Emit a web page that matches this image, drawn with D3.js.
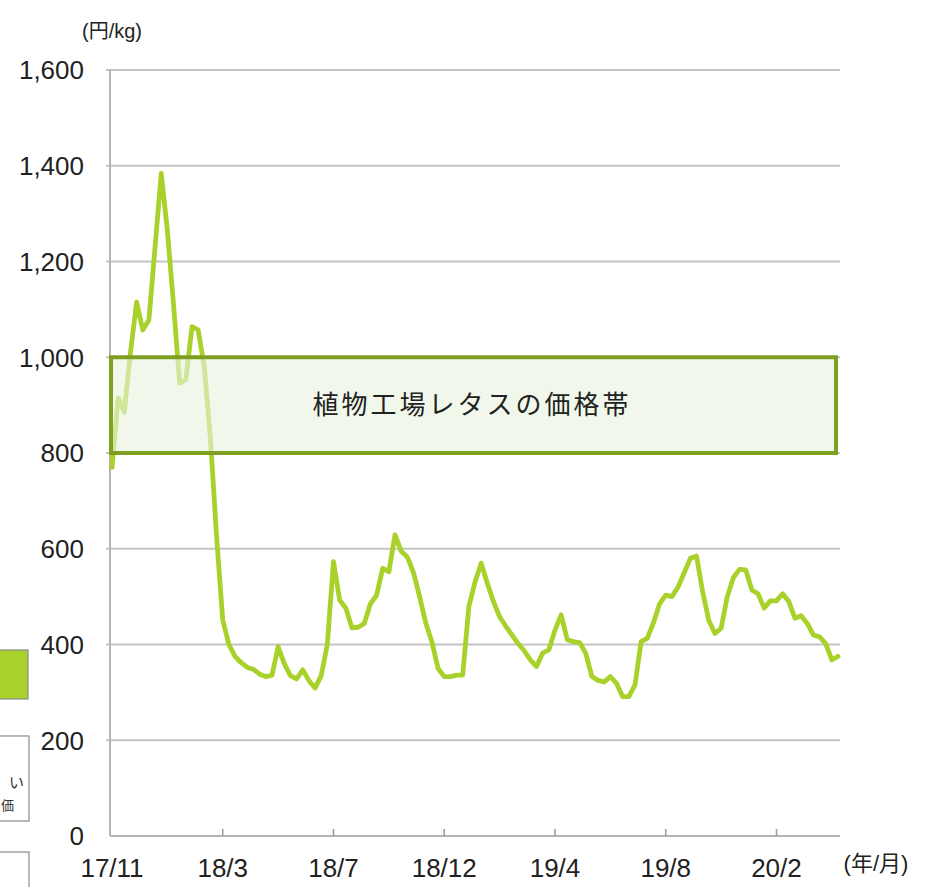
<!DOCTYPE html>
<html><head><meta charset="utf-8">
<script src="https://cdn.jsdelivr.net/npm/d3@7"></script>
<style>
html,body{margin:0;padding:0;background:#fff;}
svg{display:block;font-family:"Liberation Sans","Noto Sans CJK JP",Arial,sans-serif;}
</style></head><body>
<svg id="c" width="926" height="887"></svg>
<script>
// Weekly lettuce price (円/kg), week 0 = 2017/11
const weeks = d3.range(0, 119);
const prices = [
 770, 915, 885,1010,1115,1057,1078,1230,1384,1265,
1110, 946, 953,1064,1057, 980, 830, 625, 451, 400,
 375, 362, 352, 348, 338, 333, 336, 395, 360, 335,
 328, 347, 325, 309, 335, 400, 573, 493, 476, 435,
 436, 444, 485, 503, 559, 552, 629, 595, 583, 550,
 500, 445, 405, 350, 333, 333, 336, 336, 479, 530,
 570, 528, 490, 458, 438, 420, 402, 387, 368, 354,
 382, 389, 430, 462, 410, 406, 404, 382, 333, 325,
 322, 333, 319, 291, 291, 315, 406, 413, 445, 485,
 503, 500, 520, 550, 580, 585, 510, 450, 423, 434,
 500, 540, 557, 556, 514, 506, 476, 491, 491, 506,
 490, 455, 460, 444, 420, 416, 402, 368, 375];
const tickWeeks = [0, 18, 36, 54, 72, 90, 108];
const tickLabels = ["17/11","18/3","18/7","18/12","19/4","19/8","20/2"];
const yTicks = [0, 200, 400, 600, 800, 1000, 1200, 1400, 1600];
const bandRange = [800, 1000];
const bandLabel = "植物工場レタスの価格帯";

const svg = d3.select("#c");
const L = 110, R = 840, T = 70, B = 836;
const x = d3.scaleLinear().domain([0, 118]).range([112, 838]);
const y = d3.scaleLinear().domain([0, 1600]).range([B, T]);

// left-edge cropped legend fragments
svg.append("rect").attr("x", -5).attr("y", 650).attr("width", 33).attr("height", 49)
  .attr("fill", "#a9d22c").attr("stroke", "#8a8a8a").attr("stroke-width", 1.2);
svg.append("rect").attr("x", -5).attr("y", 736).attr("width", 34).attr("height", 85)
  .attr("fill", "none").attr("stroke", "#8a8a8a").attr("stroke-width", 1.2);
svg.append("text").attr("x", 9).attr("y", 788).attr("font-size", 15).attr("fill", "#333").text("い");
svg.append("text").attr("x", 1).attr("y", 810).attr("font-size", 13).attr("fill", "#333").text("価");
svg.append("rect").attr("x", -5).attr("y", 852).attr("width", 34).attr("height", 60)
  .attr("fill", "none").attr("stroke", "#8a8a8a").attr("stroke-width", 1.2);

// gridlines
svg.append("g").selectAll("line").data(yTicks.filter(d => d > 0)).join("line")
  .attr("x1", L - 4).attr("x2", R).attr("y1", d => y(d)).attr("y2", d => y(d))
  .attr("stroke", "#c4c4c4").attr("stroke-width", 2);

// axes lines
svg.append("line").attr("x1", L).attr("x2", L).attr("y1", T).attr("y2", B)
  .attr("stroke", "#b5b5b5").attr("stroke-width", 2);
svg.append("line").attr("x1", L).attr("x2", R).attr("y1", B).attr("y2", B)
  .attr("stroke", "#b5b5b5").attr("stroke-width", 2);
svg.append("g").selectAll("line").data(tickWeeks.slice(1)).join("line")
  .attr("x1", d => x(d)).attr("x2", d => x(d)).attr("y1", B - 7).attr("y2", B)
  .attr("stroke", "#9a9a9a").attr("stroke-width", 1.5);

// y labels
svg.append("g").selectAll("text").data(yTicks).join("text")
  .attr("x", 84).attr("y", d => y(d)).attr("dy", "0.36em").attr("text-anchor", "end")
  .attr("font-size", 26).attr("fill", "#222").text(d => d3.format(",")(d));
svg.append("text").attr("x", 112).attr("y", 38).attr("text-anchor", "middle")
  .attr("font-size", 20).attr("fill", "#222").text("(円/kg)");

// x labels
svg.append("g").selectAll("text").data(tickWeeks).join("text")
  .attr("x", (d, i) => x(d)).attr("y", 877).attr("text-anchor", "middle")
  .attr("font-size", 26).attr("fill", "#222").text((d, i) => tickLabels[i]);
svg.append("text").attr("x", 876).attr("y", 871).attr("text-anchor", "middle")
  .attr("font-size", 22).attr("fill", "#222").text("(年/月)");

// price line
const line = d3.line().x((d, i) => x(weeks[i])).y(d => y(d)).curve(d3.curveLinear);
svg.append("path").datum(prices).attr("d", line)
  .attr("fill", "none").attr("stroke", "#a8d12a").attr("stroke-width", 4.8)
  .attr("stroke-linejoin", "round").attr("stroke-linecap", "round");

// price band box
svg.append("rect").attr("x", L + 1).attr("y", y(bandRange[1]))
  .attr("width", 836 - L - 1).attr("height", y(bandRange[0]) - y(bandRange[1]))
  .attr("fill", "#e9f4de").attr("fill-opacity", 0.62)
  .attr("stroke", "#7f9f22").attr("stroke-width", 4);
svg.append("text").attr("x", 472).attr("y", y((bandRange[0] + bandRange[1]) / 2))
  .attr("dy", "0.36em").attr("text-anchor", "middle")
  .attr("font-size", 26).attr("letter-spacing", 3).attr("fill", "#222").text(bandLabel);
</script>
</body></html>
